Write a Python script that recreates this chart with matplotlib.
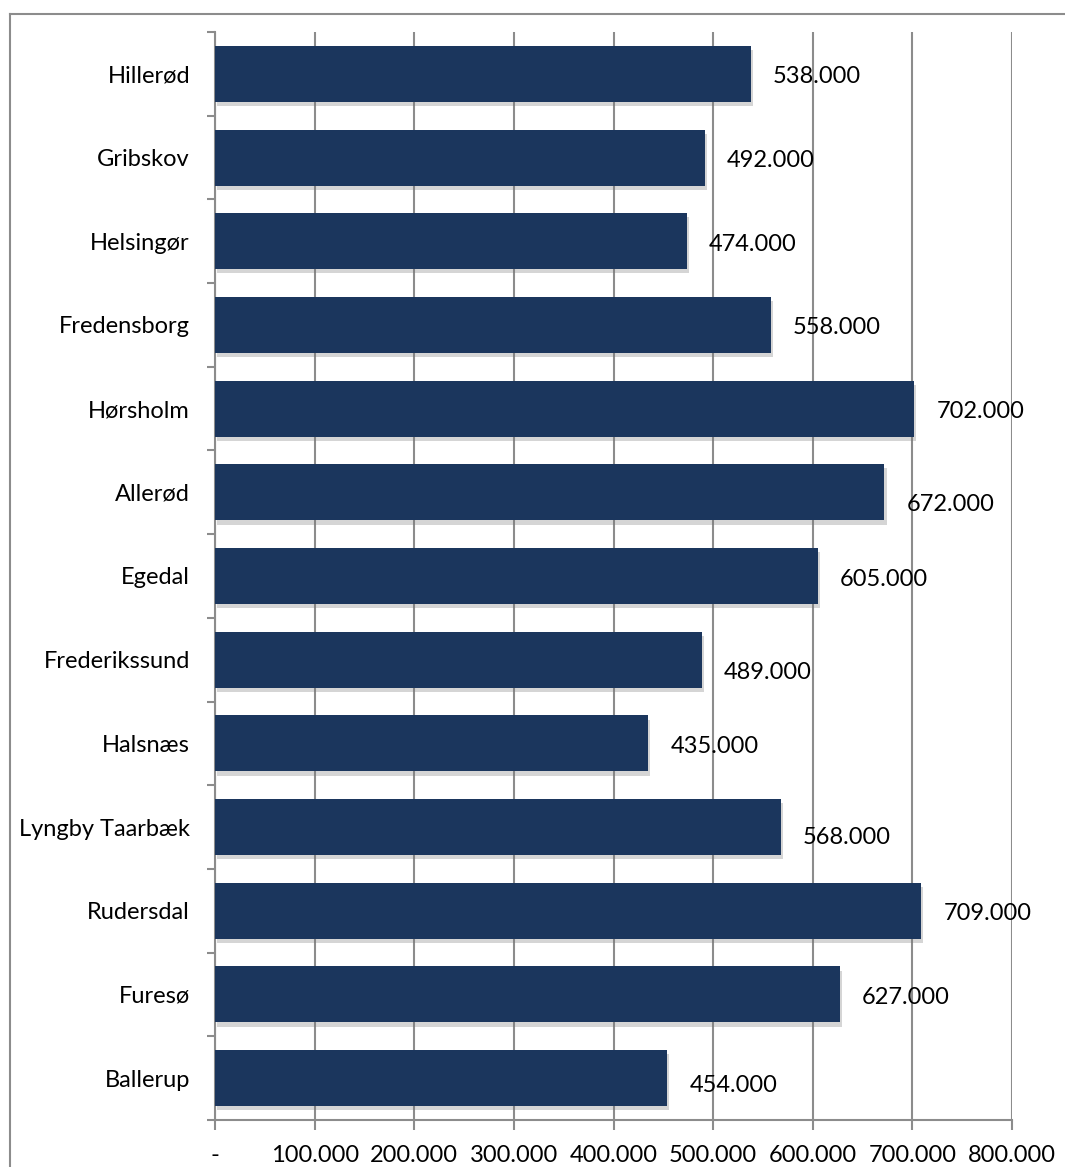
import matplotlib
matplotlib.use("Agg")
import matplotlib.pyplot as plt
import matplotlib.patheffects as pe
from matplotlib.lines import Line2D
from matplotlib.ticker import FuncFormatter, MultipleLocator, FixedLocator

municipalities = [
    "Hillerød", "Gribskov", "Helsingør", "Fredensborg", "Hørsholm", "Allerød",
    "Egedal", "Frederikssund", "Halsnæs", "Lyngby Taarbæk", "Rudersdal",
    "Furesø", "Ballerup",
]
values = [538000, 492000, 474000, 558000, 702000, 672000,
          605000, 489000, 435000, 568000, 709000, 627000, 454000]

# small downward nudges (pixels) of the value labels, as placed in the original
label_nudge = [3, 3, 3, 3, 3, 12, 3, 13, 3, 10, 3, 3, 7]

BAR = "#1b365d"
GRID = "#8c8c8c"
FS = 17

plt.rcParams["font.family"] = ["Lato", "DejaVu Sans"]


def dk_fmt(v, _pos=None):
    if v == 0:
        return "-"
    return f"{v:,.0f}".replace(",", ".")


fig = plt.figure(figsize=(10.65, 11.67), dpi=100)
ax = fig.add_axes([215 / 1065, 1 - 1120 / 1167, (1012 - 215) / 1065, (1120 - 32) / 1167])

ys = list(range(len(municipalities)))
bars = ax.barh(ys, values, height=0.67, color=BAR, zorder=3)
for b in bars:
    b.set_path_effects([pe.withSimplePatchShadow(offset=(1.5, -3), shadow_rgbFace="#777777", alpha=0.3), pe.Normal()])

for y, v, dy in zip(ys, values, label_nudge):
    ax.annotate(dk_fmt(v), xy=(v, y), xytext=(22, -dy), textcoords="offset pixels",
                ha="left", va="center", fontsize=FS, color="black", zorder=4)

ax.set_xlim(0, 800000)
ax.set_ylim(len(municipalities) - 0.5, -0.5)
ax.xaxis.set_major_locator(MultipleLocator(100000))
ax.xaxis.set_major_formatter(FuncFormatter(dk_fmt))
ax.set_yticks(ys)
ax.set_yticklabels(municipalities)
ax.yaxis.set_minor_locator(FixedLocator([i - 0.5 for i in range(len(municipalities) + 1)]))

ax.grid(axis="x", color=GRID, linewidth=1.5, zorder=0)
ax.set_axisbelow(True)

for side in ("top", "right"):
    ax.spines[side].set_visible(False)
for side in ("left", "bottom"):
    ax.spines[side].set_color(GRID)
    ax.spines[side].set_linewidth(1.5)

ax.tick_params(axis="y", which="major", length=0, pad=18, labelsize=FS)
ax.tick_params(axis="y", which="minor", length=6, width=1.5, color=GRID)
ax.tick_params(axis="x", length=7, width=1.5, color=GRID, pad=11, labelsize=FS)

# outer chart border (top and left visible)
fig.add_artist(Line2D([10 / 1065, 1], [1 - 14 / 1167] * 2, transform=fig.transFigure, color=GRID, lw=1.5))
fig.add_artist(Line2D([10 / 1065] * 2, [0, 1 - 14 / 1167], transform=fig.transFigure, color=GRID, lw=1.5))

fig.savefig("out.png", dpi=100)
plt.close(fig)
